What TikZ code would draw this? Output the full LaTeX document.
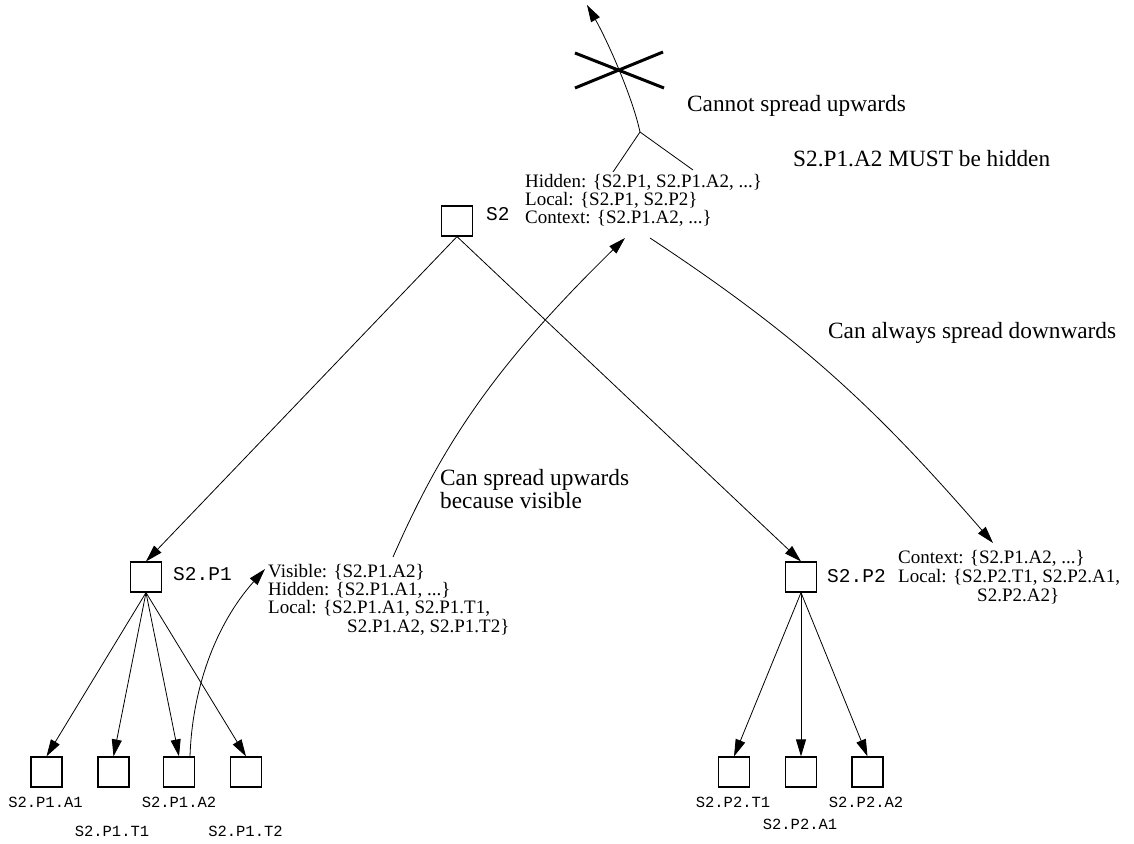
\documentclass[tikz,border=0pt]{standalone}
\usepackage{fontspec}
\setmainfont{Liberation Serif}
\newfontfamily\monofont{Liberation Mono}
\usetikzlibrary{arrows.meta}
\tikzset{
  box/.style={draw, line width=1.2bp, minimum width=31bp, minimum height=30bp, inner sep=0pt},
  edge/.style={line width=0.8bp, -{Triangle[length=17bp,width=10bp]}},
  plainedge/.style={line width=0.8bp},
  settxt/.style={anchor=base west, inner sep=0pt, font=\fontsize{19bp}{18bp}\selectfont},
  anno/.style={anchor=base west, inner sep=0pt, font=\fontsize{23.3bp}{23bp}\selectfont},
  biglbl/.style={anchor=base west, inner sep=0pt, font=\monofont\fontsize{19.5bp}{20bp}\selectfont},
  leaflbl/.style={anchor=base, inner sep=0pt, font=\monofont\fontsize{15.5bp}{16bp}\selectfont},
  cross/.style={line width=3bp}
}
\begin{document}
\begin{tikzpicture}[x=1bp,y=-1bp]
\useasboundingbox (0,0) rectangle (1134,844);

% boxes
\node[box] (s2) at (457,221) {};
\node[box] (p1) at (146,577) {};
\node[box] (p2) at (801,577) {};
\node[box] (p1a1) at (46.5,772) {};
\node[box] (p1t1) at (113.5,772) {};
\node[box] (p1a2) at (179,772) {};
\node[box] (p1t2) at (246,772) {};
\node[box] (p2t1) at (734,772) {};
\node[box] (p2a1) at (801,772) {};
\node[box] (p2a2) at (867.5,772) {};

% box labels
\node[biglbl] (ls2) at (486,220) {S2};
\node[biglbl] (lp1) at (173,580) {S2.P1};
\node[biglbl] (lp2) at (827,582) {S2.P2};
\node[leaflbl] (lp1a1) at (45.5,807) {S2.P1.A1};
\node[leaflbl] (lp1t1) at (112,836) {S2.P1.T1};
\node[leaflbl] (lp1a2) at (179,807) {S2.P1.A2};
\node[leaflbl] (lp1t2) at (245.5,836) {S2.P1.T2};
\node[leaflbl] (lp2t1) at (733,807) {S2.P2.T1};
\node[leaflbl] (lp2a1) at (800,829) {S2.P2.A1};
\node[leaflbl] (lp2a2) at (866,807) {S2.P2.A2};

% set texts
\node[settxt] (th) at (525,187) {Hidden: \{S2.P1, S2.P1.A2, ...\}};
\node[settxt] (tl) at (525,205) {Local: \{S2.P1, S2.P2\}};
\node[settxt] (tc) at (525,223) {Context: \{S2.P1.A2, ...\}};

\node[settxt] (vv) at (268,577) {Visible: \{S2.P1.A2\}};
\node[settxt] (vh) at (268,595) {Hidden: \{S2.P1.A1, ...\}};
\node[settxt] (vl) at (268,613) {Local: \{S2.P1.A1, S2.P1.T1,};
\node[settxt] (vl2) at (347,632) {S2.P1.A2, S2.P1.T2\}};

\node[settxt] (wc) at (898,563) {Context: \{S2.P1.A2, ...\}};
\node[settxt] (wl) at (898,582) {Local: \{S2.P2.T1, S2.P2.A1,};
\node[settxt] (wl2) at (977,601) {S2.P2.A2\}};

% annotations
\node[anno] (a1) at (687,111) {Cannot spread upwards};
\node[anno] (a2) at (793,166) {S2.P1.A2 MUST be hidden};
\node[anno] (a3) at (828,338) {Can always spread downwards};
\node[anno] (a4) at (440,485) {Can spread upwards};
\node[anno] (a5) at (440,508) {because visible};

% tree edges
\draw[edge] (s2.south) -- (p1.north);
\draw[edge] (s2.south) -- (p2.north);
\draw[edge] (p1.south) -- (p1a1.north);
\draw[edge] (p1.south) -- (p1t1.north);
\draw[edge] (p1.south) -- (p1a2.north);
\draw[edge] (p1.south) -- (p1t2.north);
\draw[edge] (p2.south) -- (p2t1.north);
\draw[edge] (p2.south) -- (p2a1.north);
\draw[edge] (p2.south) -- (p2a2.north);

% propagation curves
\coordinate (a2out) at (190,757);
\coordinate (vin) at (265,569);
\draw[edge] (a2out) .. controls (192,690) and (215,625) .. (vin);

\coordinate (vout) at (393,557);
\coordinate (tin) at (625,238);
\draw[edge] (vout) .. controls (440,450) and (490,370) .. (tin);

\coordinate (tout) at (650,238);
\coordinate (win) at (993,543);
\draw[edge] (tout) .. controls (800,337) and (875,407) .. (win);

% upward attempt
\coordinate (fork1) at (613,172);
\coordinate (fork2) at (693,170);
\coordinate (apex) at (640,132);
\coordinate (topend) at (587,5);
\draw[plainedge] (fork1) -- (apex) -- (fork2);
\draw[edge] (apex) .. controls (632,95) and (606,38) .. (topend);

% cross
\coordinate (x1) at (575,88);
\coordinate (x2) at (663,52);
\coordinate (x3) at (575,53);
\coordinate (x4) at (664,88);
\draw[cross] (x1) -- (x2);
\draw[cross] (x3) -- (x4);
\end{tikzpicture}
\end{document}
